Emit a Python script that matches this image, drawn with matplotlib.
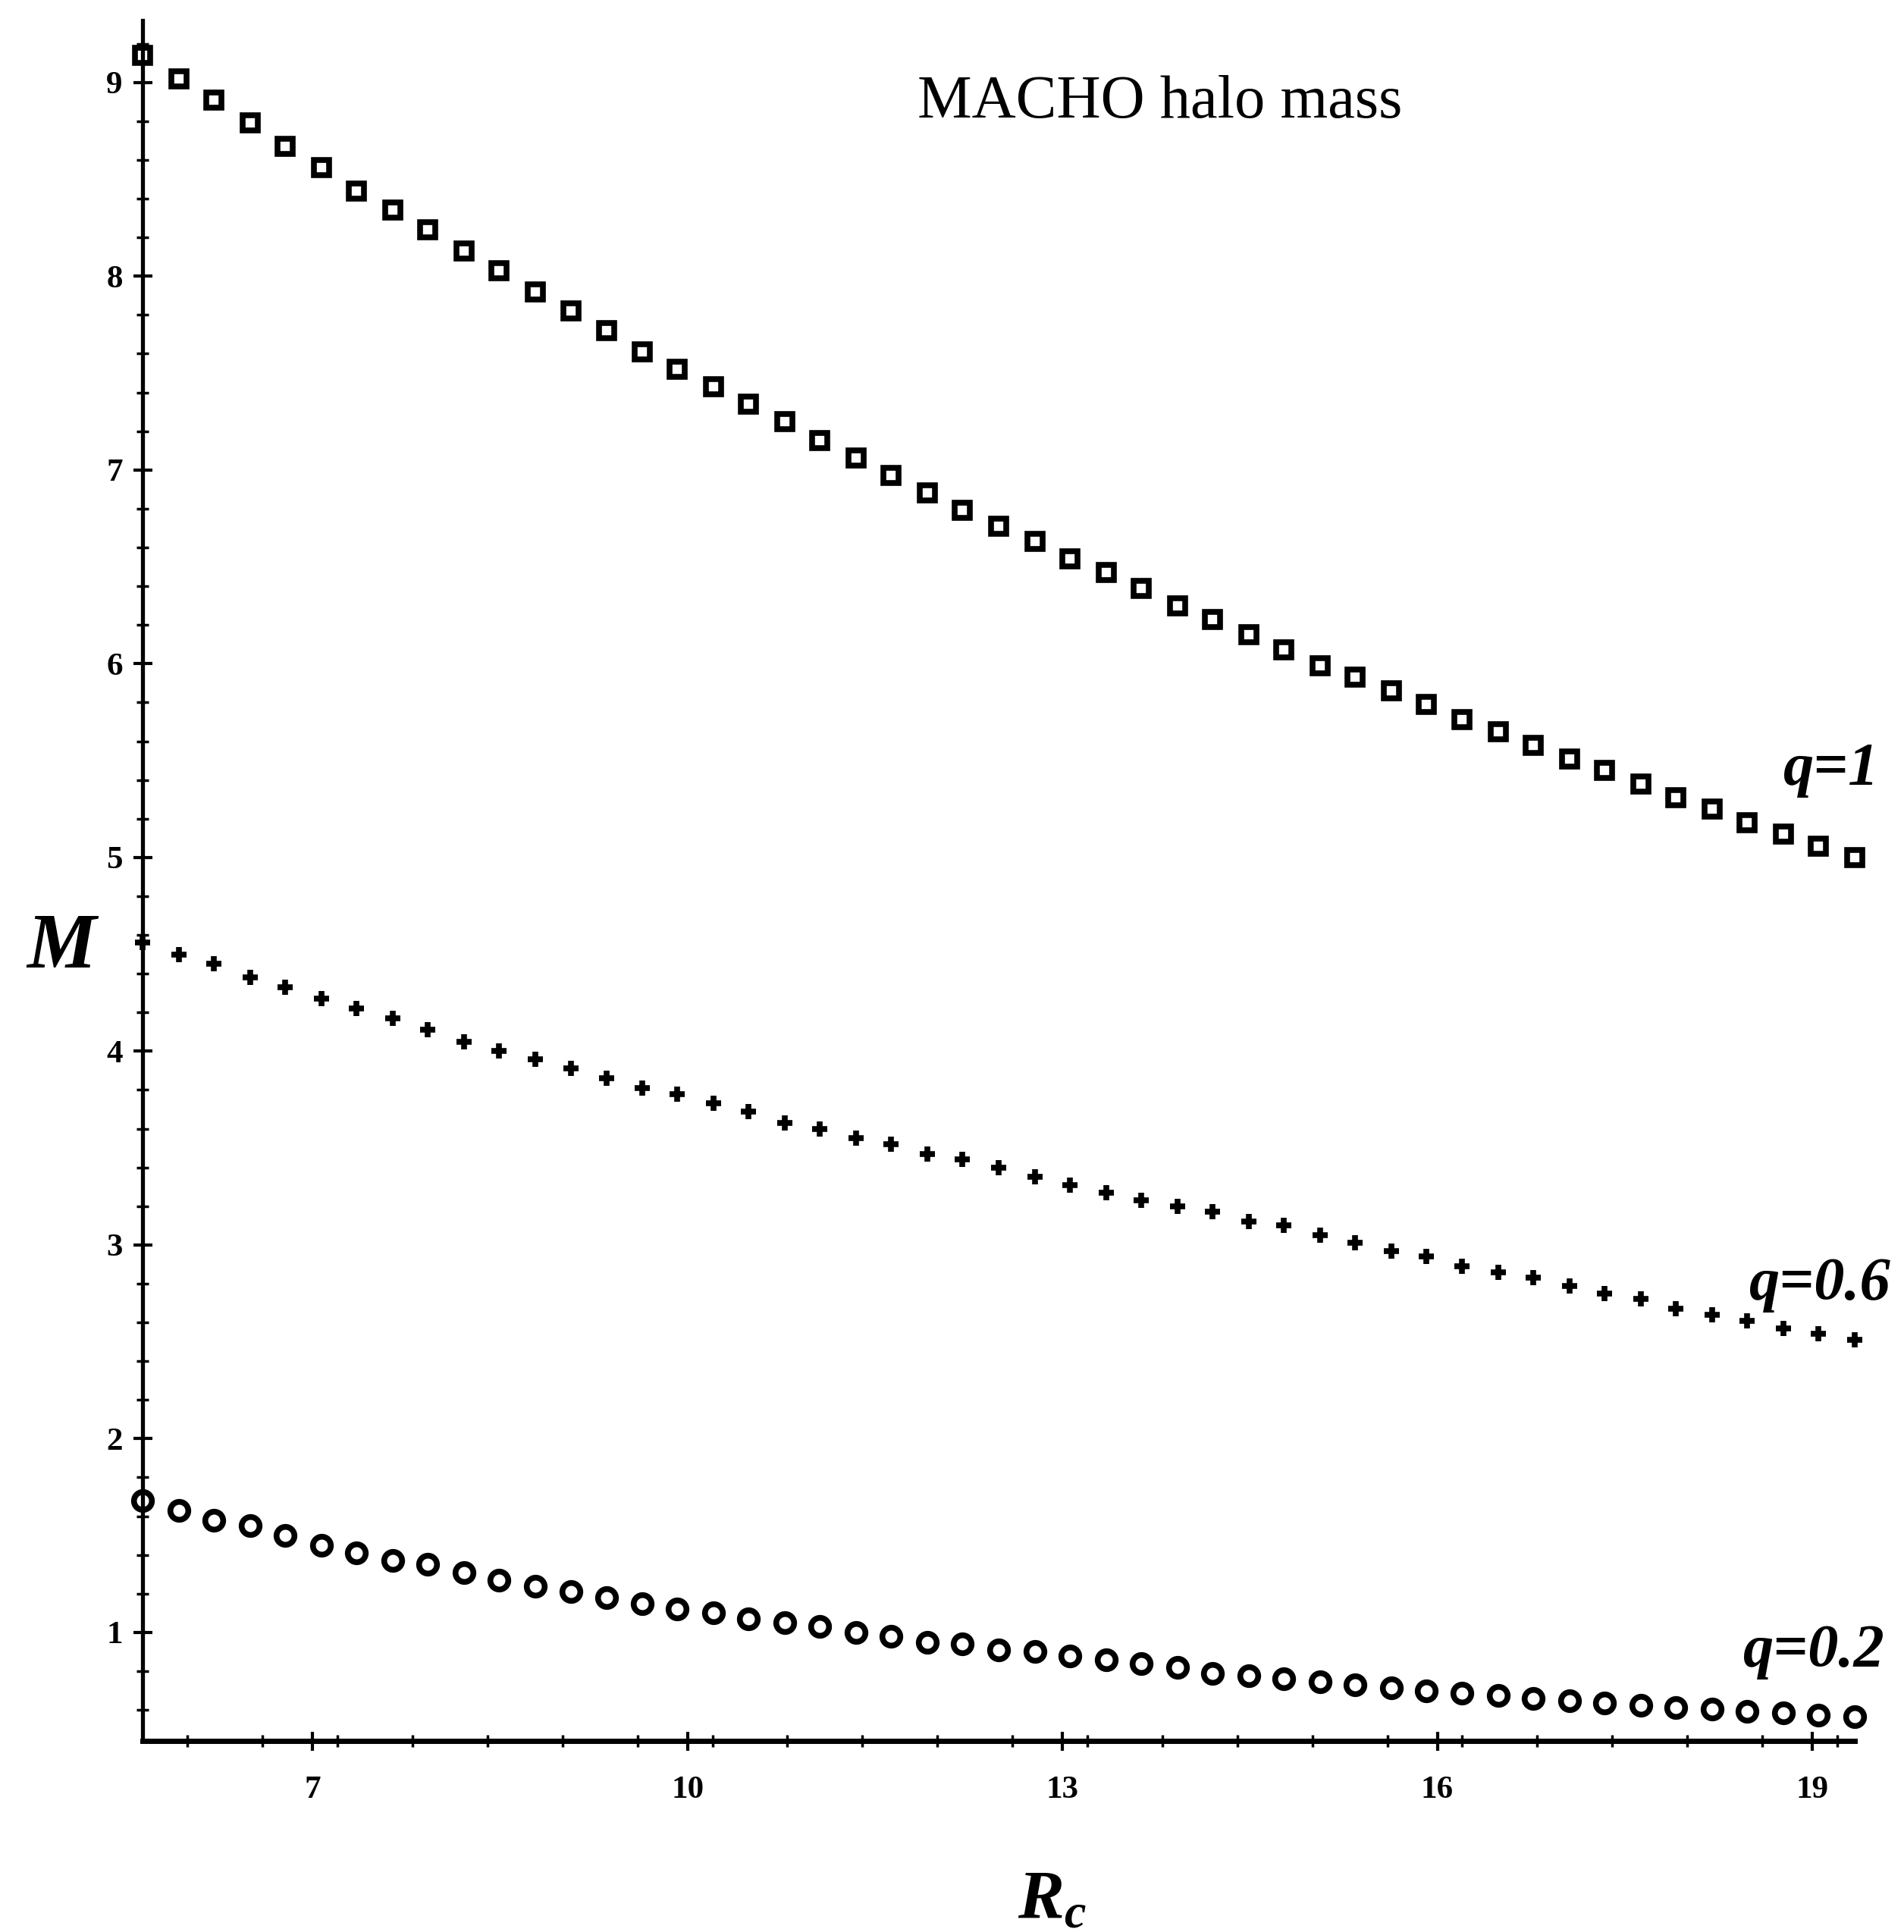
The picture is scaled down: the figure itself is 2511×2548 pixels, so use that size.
import matplotlib
matplotlib.use("Agg")
import matplotlib.pyplot as plt
from matplotlib.ticker import MultipleLocator

# ---------------- data ----------------
rc = [5.64, 5.93, 6.21, 6.50, 6.78, 7.07, 7.35, 7.64, 7.92, 8.21,
      8.49, 8.78, 9.07, 9.35, 9.64, 9.92, 10.21, 10.49, 10.78, 11.06,
      11.35, 11.63, 11.92, 12.20, 12.49, 12.78, 13.06, 13.35, 13.63, 13.92,
      14.20, 14.49, 14.77, 15.06, 15.34, 15.63, 15.91, 16.20, 16.49, 16.77,
      17.06, 17.34, 17.63, 17.91, 18.20, 18.48, 18.77, 19.05, 19.34]

m_q1 = [9.14, 9.02, 8.91, 8.79, 8.67, 8.56, 8.44, 8.34, 8.24, 8.13,
        8.03, 7.92, 7.82, 7.72, 7.61, 7.52, 7.43, 7.34, 7.25, 7.15,
        7.06, 6.97, 6.88, 6.79, 6.71, 6.63, 6.54, 6.47, 6.39, 6.30,
        6.23, 6.15, 6.07, 5.99, 5.93, 5.86, 5.79, 5.71, 5.65, 5.58,
        5.51, 5.45, 5.38, 5.31, 5.25, 5.18, 5.12, 5.06, 5.00]

m_q06 = [4.56, 4.50, 4.45, 4.38, 4.33, 4.27, 4.22, 4.17, 4.11, 4.05,
         4.00, 3.96, 3.91, 3.86, 3.81, 3.78, 3.73, 3.69, 3.63, 3.60,
         3.55, 3.52, 3.47, 3.44, 3.40, 3.35, 3.31, 3.27, 3.23, 3.20,
         3.17, 3.12, 3.10, 3.05, 3.01, 2.97, 2.94, 2.89, 2.86, 2.83,
         2.79, 2.75, 2.72, 2.67, 2.64, 2.61, 2.57, 2.54, 2.51]

m_q02 = [1.68, 1.63, 1.58, 1.55, 1.50, 1.45, 1.41, 1.37, 1.35, 1.31,
         1.27, 1.24, 1.21, 1.18, 1.15, 1.12, 1.10, 1.07, 1.05, 1.03,
         1.00, 0.98, 0.95, 0.94, 0.91, 0.90, 0.88, 0.86, 0.84, 0.82,
         0.79, 0.775, 0.76, 0.745, 0.73, 0.715, 0.70, 0.687, 0.674, 0.661,
         0.649, 0.637, 0.625, 0.614, 0.603, 0.593, 0.583, 0.574, 0.565]

x_ticks = [7, 10, 13, 16, 19]
y_ticks = [1, 2, 3, 4, 5, 6, 7, 8, 9]
series_labels = ["q=1", "q=0.6", "q=0.2"]
title_text = "MACHO halo mass"

# ---------------- style ----------------
plt.rcParams["font.family"] = ["Liberation Serif", "DejaVu Serif"]
plt.rcParams["mathtext.fontset"] = "custom"
plt.rcParams["mathtext.rm"] = "Liberation Serif"
plt.rcParams["mathtext.it"] = "Liberation Serif:italic:bold"
plt.rcParams["mathtext.bf"] = "Liberation Serif:bold"

fig = plt.figure(figsize=(25.11, 25.48), dpi=100)
ax = fig.add_axes([0.0749, 0.0989, 0.8992, 0.8905])

ax.plot(rc, m_q1, ls="none", marker="s", ms=14, mfc="none", mec="black",
        mew=5.5, clip_on=False)
ax.plot(rc, m_q06, ls="none", marker="+", ms=14, mec="black", mew=5.5,
        clip_on=False)
ax.plot(rc, m_q02, ls="none", marker="o", ms=17, mfc="none", mec="black",
        mew=5.5, clip_on=False)

ax.set_xlim(5.64, 19.34)
ax.set_ylim(0.44, 9.32)
for s in ("top", "right"):
    ax.spines[s].set_visible(False)
ax.spines["left"].set_linewidth(3.8)
ax.spines["bottom"].set_linewidth(5)

ax.set_xticks(x_ticks, labels=[str(t) for t in x_ticks], fontsize=31,
              fontweight="bold")
ax.set_yticks(y_ticks, labels=[str(t) for t in y_ticks], fontsize=31,
              fontweight="bold")
ax.xaxis.set_minor_locator(MultipleLocator(0.6))
ax.yaxis.set_minor_locator(MultipleLocator(0.2))
ax.tick_params(which="major", direction="inout", length=18, width=3)
ax.tick_params(which="minor", direction="inout", length=11, width=2.5)
ax.tick_params(axis="x", which="major", pad=24)
ax.tick_params(axis="y", which="major", pad=10)

fig.text(0.609, 0.947, title_text, ha="center", va="center", fontsize=58)
fig.text(0.0323, 0.509, "M", ha="center", va="center", fontsize=74,
         fontweight="bold", fontstyle="italic")
fig.text(0.5525, 0.016, r"$R_c$", ha="center", va="center", fontsize=66)

label_pos = [(0.9869, 0.6013), (0.9932, 0.3348), (0.990, 0.1452)]
for txt, (fx, fy) in zip(series_labels, label_pos):
    fig.text(fx, fy, txt, ha="right", va="center", fontsize=58,
             fontweight="bold", fontstyle="italic")

fig.savefig("out.png", dpi=100, facecolor="white")
